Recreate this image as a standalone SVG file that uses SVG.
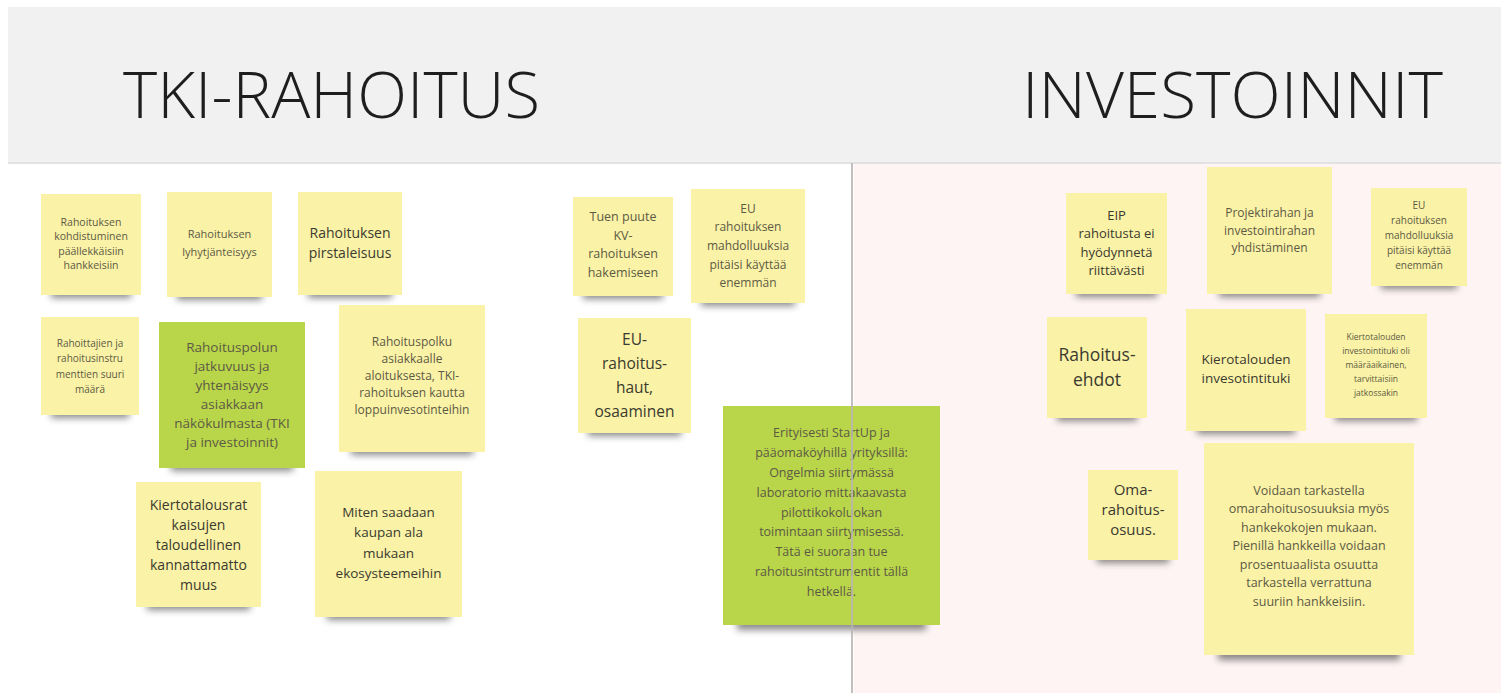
<svg xmlns="http://www.w3.org/2000/svg" width="1501" height="693" viewBox="0 0 1501 693">
<defs>
<filter id="blur" x="-20%" y="-100%" width="140%" height="300%"><feGaussianBlur stdDeviation="3.5"/></filter>
<style>
.y{fill:#faf2a6}
.g{fill:#b9d549}
.sh{fill:#2a2a2a;opacity:.55;filter:url(#blur)}
.t{font-family:"Open Sans","Noto Sans","DejaVu Sans",sans-serif;fill:#5c5a45;text-anchor:middle}
.d{fill:#3a3a30}
.h{font-family:"Open Sans","Noto Sans","DejaVu Sans",sans-serif;font-weight:300;font-size:64px;fill:#1e1e1e}
</style>
</defs>
<rect width="1501" height="693" fill="#ffffff"/>
<rect x="854" y="163" width="647" height="530" fill="#fdf4f3"/>
<g id="header">
<rect x="8" y="7" width="1493" height="155" fill="#f1f1f1"/>
<rect x="8" y="162" width="1493" height="2" fill="#e2e2e2"/>
<text class="h" x="123" y="118" textLength="417" lengthAdjust="spacingAndGlyphs">TKI-RAHOITUS</text>
<text class="h" x="1022" y="118" textLength="421" lengthAdjust="spacingAndGlyphs">INVESTOINNIT</text>
</g>
<g id="n1">
<rect class="sh" x="51" y="288" width="80" height="10"/>
<rect class="y" x="41" y="194" width="100" height="101"/>
<text class="t" font-size="10.5"><tspan x="91" y="225.5">Rahoituksen</tspan><tspan x="91" y="240">kohdistuminen</tspan><tspan x="91" y="254.5">päällekkäisiin</tspan><tspan x="91" y="269">hankkeisiin</tspan></text>
</g>
<g id="n2">
<rect class="sh" x="177" y="290" width="85" height="10"/>
<rect class="y" x="167" y="192" width="105" height="105"/>
<text class="t" font-size="11"><tspan x="219.5" y="238">Rahoituksen</tspan><tspan x="219.5" y="256">lyhytjänteisyys</tspan></text>
</g>
<g id="n3">
<rect class="sh" x="308" y="288" width="84" height="10"/>
<rect class="y" x="298" y="192" width="104" height="103"/>
<text class="t d" font-size="14"><tspan x="350" y="238">Rahoituksen</tspan><tspan x="350" y="258">pirstaleisuus</tspan></text>
</g>
<g id="n4">
<rect class="sh" x="51" y="408" width="78" height="10"/>
<rect class="y" x="41" y="317" width="98" height="98"/>
<text class="t" font-size="10"><tspan x="90" y="346.5">Rahoittajien ja</tspan><tspan x="90" y="361.5">rahoitusinstru</tspan><tspan x="90" y="377.5">menttien suuri</tspan><tspan x="90" y="392.5">määrä</tspan></text>
</g>
<g id="n5">
<rect class="sh" x="171" y="461" width="122" height="10"/>
<rect class="g" x="159" y="322" width="146" height="146"/>
<text class="t" font-size="13.5"><tspan x="232" y="352">Rahoituspolun</tspan><tspan x="232" y="371">jatkuvuus ja</tspan><tspan x="232" y="390">yhtenäisyys</tspan><tspan x="232" y="409">asiakkaan</tspan><tspan x="232" y="428">näkökulmasta (TKI</tspan><tspan x="232" y="447">ja investoinnit)</tspan></text>
</g>
<g id="n6">
<rect class="sh" x="351" y="445" width="122" height="10"/>
<rect class="y" x="339" y="305" width="146" height="147"/>
<text class="t" font-size="12"><tspan x="412" y="346">Rahoituspolku</tspan><tspan x="412" y="363">asiakkaalle</tspan><tspan x="412" y="380">aloituksesta, TKI-</tspan><tspan x="412" y="397">rahoituksen kautta</tspan><tspan x="412" y="414">loppuinvesotinteihin</tspan></text>
</g>
<g id="n7">
<rect class="sh" x="147" y="600" width="103" height="10"/>
<rect class="y" x="136" y="482" width="125" height="125"/>
<text class="t d" font-size="14"><tspan x="198.5" y="510">Kiertotalousrat</tspan><tspan x="198.5" y="530">kaisujen</tspan><tspan x="198.5" y="550">taloudellinen</tspan><tspan x="198.5" y="570">kannattamatto</tspan><tspan x="198.5" y="590">muus</tspan></text>
</g>
<g id="n8">
<rect class="sh" x="327" y="610" width="123" height="10"/>
<rect class="y" x="315" y="471" width="147" height="146"/>
<text class="t d" font-size="13.5"><tspan x="388.5" y="517">Miten saadaan</tspan><tspan x="388.5" y="537">kaupan ala</tspan><tspan x="388.5" y="558">mukaan</tspan><tspan x="388.5" y="578">ekosysteemeihin</tspan></text>
</g>
<g id="n9">
<rect class="sh" x="583" y="289" width="80" height="10"/>
<rect class="y" x="573" y="197" width="100" height="99"/>
<text class="t" font-size="12.5"><tspan x="623" y="221">Tuen puute</tspan><tspan x="623" y="240">KV-</tspan><tspan x="623" y="258">rahoituksen</tspan><tspan x="623" y="277">hakemiseen</tspan></text>
</g>
<g id="n10">
<rect class="sh" x="701" y="296" width="94" height="10"/>
<rect class="y" x="691" y="189" width="114" height="114"/>
<text class="t" font-size="12"><tspan x="748" y="213">EU</tspan><tspan x="748" y="231">rahoituksen</tspan><tspan x="748" y="250">mahdolluuksia</tspan><tspan x="748" y="269">pitäisi käyttää</tspan><tspan x="748" y="287">enemmän</tspan></text>
</g>
<g id="n11">
<rect class="sh" x="588" y="426" width="93" height="10"/>
<rect class="y" x="578" y="318" width="113" height="115"/>
<text class="t d" font-size="15.5"><tspan x="634.5" y="345">EU-</tspan><tspan x="634.5" y="369">rahoitus-</tspan><tspan x="634.5" y="393">haut,</tspan><tspan x="634.5" y="417">osaaminen</tspan></text>
</g>
<g id="n12">
<rect class="sh" x="737" y="618" width="189" height="12"/>
<rect class="g" x="723" y="406" width="217" height="219"/>
<text class="t" font-size="12.5"><tspan x="831.5" y="437">Erityisesti StartUp ja</tspan><tspan x="831.5" y="457">pääomaköyhillä yrityksillä:</tspan><tspan x="831.5" y="477">Ongelmia siirtymässä</tspan><tspan x="831.5" y="497">laboratorio mittakaavasta</tspan><tspan x="831.5" y="517">pilottikokoluokan</tspan><tspan x="831.5" y="536">toimintaan siirtymisessä.</tspan><tspan x="831.5" y="556">Tätä ei suoraan tue</tspan><tspan x="831.5" y="576">rahoitusintstrumentit tällä</tspan><tspan x="831.5" y="596">hetkellä.</tspan></text>
</g>
<g id="n13">
<rect class="sh" x="1076" y="287" width="81" height="10"/>
<rect class="y" x="1066" y="193" width="101" height="101"/>
<text class="t d" font-size="13"><tspan x="1116.5" y="219.5">EIP</tspan><tspan x="1116.5" y="238">rahoitusta ei</tspan><tspan x="1116.5" y="256.5">hyödynnetä</tspan><tspan x="1116.5" y="274.5">riittävästi</tspan></text>
</g>
<g id="n14">
<rect class="sh" x="1219" y="287" width="101" height="10"/>
<rect class="y" x="1207" y="167" width="125" height="127"/>
<text class="t" font-size="12"><tspan x="1269.5" y="217">Projektirahan ja</tspan><tspan x="1269.5" y="234.5">investointirahan</tspan><tspan x="1269.5" y="252">yhdistäminen</tspan></text>
</g>
<g id="n15">
<rect class="sh" x="1381" y="279" width="76" height="10"/>
<rect class="y" x="1371" y="188" width="96" height="98"/>
<text class="t" font-size="10"><tspan x="1419" y="208.5">EU</tspan><tspan x="1419" y="223.5">rahoituksen</tspan><tspan x="1419" y="238.5">mahdolluuksia</tspan><tspan x="1419" y="253.5">pitäisi käyttää</tspan><tspan x="1419" y="268.5">enemmän</tspan></text>
</g>
<g id="n16">
<rect class="sh" x="1057" y="411" width="80" height="10"/>
<rect class="y" x="1047" y="317" width="100" height="101"/>
<text class="t d" font-size="17.5"><tspan x="1097" y="361">Rahoitus-</tspan><tspan x="1097" y="386">ehdot</tspan></text>
</g>
<g id="n17">
<rect class="sh" x="1197" y="424" width="98" height="10"/>
<rect class="y" x="1186" y="309" width="120" height="122"/>
<text class="t d" font-size="13.5"><tspan x="1246" y="364">Kierotalouden</tspan><tspan x="1246" y="383">invesotintituki</tspan></text>
</g>
<g id="n18">
<rect class="sh" x="1335" y="411" width="82" height="10"/>
<rect class="y" x="1325" y="314" width="102" height="104"/>
<text class="t" font-size="8.5"><tspan x="1376" y="340">Kiertotalouden</tspan><tspan x="1376" y="354">investointituki oli</tspan><tspan x="1376" y="368">määräaikainen,</tspan><tspan x="1376" y="382">tarvittaisiin</tspan><tspan x="1376" y="396">jatkossakin</tspan></text>
</g>
<g id="n19">
<rect class="sh" x="1097" y="553" width="72" height="10"/>
<rect class="y" x="1088" y="470" width="90" height="90"/>
<text class="t d" font-size="15"><tspan x="1133" y="495">Oma-</tspan><tspan x="1133" y="515">rahoitus-</tspan><tspan x="1133" y="535">osuus.</tspan></text>
</g>
<g id="n20">
<rect class="sh" x="1218" y="648" width="182" height="12"/>
<rect class="y" x="1204" y="443" width="210" height="212"/>
<text class="t" font-size="12.5"><tspan x="1309" y="494.5">Voidaan tarkastella</tspan><tspan x="1309" y="513">omarahoitusosuuksia myös</tspan><tspan x="1309" y="531.5">hankekokojen mukaan.</tspan><tspan x="1309" y="550">Pienillä hankkeilla voidaan</tspan><tspan x="1309" y="568.5">prosentuaalista osuutta</tspan><tspan x="1309" y="587">tarkastella verrattuna</tspan><tspan x="1309" y="605.5">suuriin hankkeisiin.</tspan></text>
</g>
<g id="divider">
<rect x="851" y="163" width="2" height="530" fill="#b8b4b4" opacity="0.85"/>
</g>
<g id="connectors"/>
</svg>
